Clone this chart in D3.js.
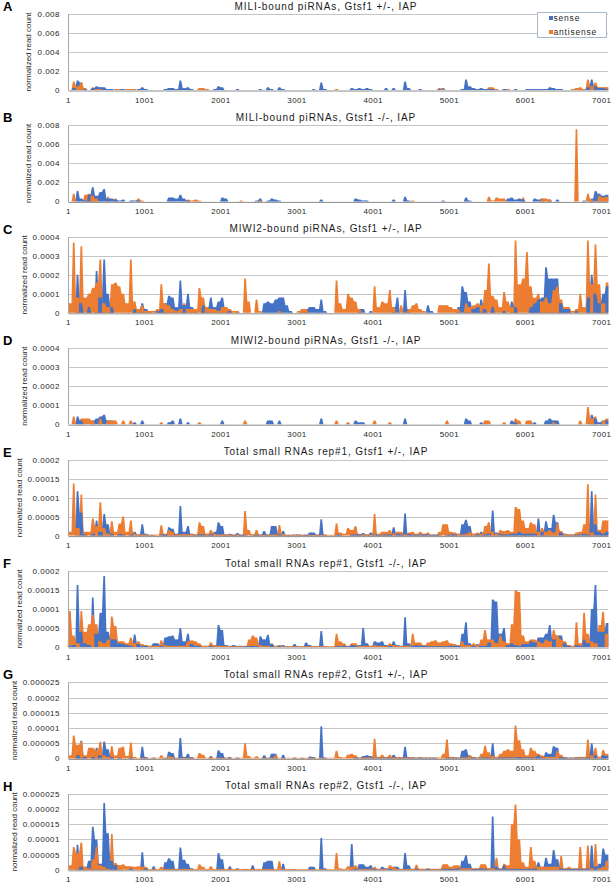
<!DOCTYPE html>
<html><head><meta charset="utf-8">
<script src="https://cdn.jsdelivr.net/npm/d3@7"></script>
<style>body{margin:0;background:#fff}svg{display:block}text{font-family:"Liberation Sans",Arial,sans-serif}</style>
</head><body><script>
// ---- data: IAP coverage in 50-nt bins (bin i covers positions 1+50i .. 50+50i) ----
const BIN = 50;
const POS_MAX = 7090;
const xTicks = [1,1001,2001,3001,4001,5001,6001,7001];
const letters = ["A","B","C","D","E","F","G","H"];
const titles = [
 "MILI-bound piRNAs, Gtsf1 +/-, IAP",
 "MILI-bound piRNAs, Gtsf1 -/-, IAP",
 "MIWI2-bound piRNAs, Gtsf1 +/-, IAP",
 "MIWI2-bound piRNAs, Gtsf1 -/-, IAP",
 "Total small RNAs rep#1, Gtsf1 +/-, IAP",
 "Total small RNAs rep#1, Gtsf1 -/-, IAP",
 "Total small RNAs rep#2, Gtsf1 +/-, IAP",
 "Total small RNAs rep#2, Gtsf1 -/-, IAP"
];
const seriesNames = ["sense","antisense"];
const ticksMILI = [0,0.002,0.004,0.006,0.008];
const labelsMILI = ["0","0.002","0.004","0.006","0.008"];
const ticksMIWI2 = [0,0.0001,0.0002,0.0003,0.0004];
const labelsMIWI2 = ["0","0.0001","0.0002","0.0003","0.0004"];
const ticksTotal1 = [0,0.00005,0.0001,0.00015,0.0002];
const labelsTotal1 = ["0","0.00005","0.0001","0.00015","0.0002"];
const ticksTotal2 = [0,0.000005,0.00001,0.000015,0.00002,0.000025];
const labelsTotal2 = ["0","0.000005","0.00001","0.000015","0.00002","0.000025"];
// value units of the arrays below
const unitMILI = 1e-4, unitMIWI2 = 1e-5, unitTotal1 = 1e-6, unitTotal2 = 1e-7;

const senseA = [
0,2,10,8,1,0,2,4,3,3,1,1,0,1,1,0,1,0,1,3,
1,0,0,0,0,1,2,2,1,10,2,3,1,0,0,0,1,0,1,4,
3,0,0,0,1,0,0,0,0,0,1,0,3,1,0,3,1,0,0,0,
0,0,0,0,1,0,8,1,0,0,0,0,0,0,2,1,2,1,2,1,
0,0,0,2,0,2,0,0,9,2,0,0,1,0,0,0,0,1,2,0,
0,0,0,1,11,4,2,1,2,1,1,1,1,0,1,1,0,1,0,0,
1,1,1,1,1,1,3,2,1,1,0,0,0,0,0,1,3,11,4,2,
2,1];
const antiA = [
0,9,4,8,2,0,3,1,1,0,0,0,1,1,0,1,1,1,0,0,
0,0,0,0,0,0,0,0,0,0,0,0,0,0,2,2,1,0,0,0,
0,0,0,0,0,0,0,0,0,0,0,0,0,0,0,0,0,0,0,0,
0,0,0,0,0,0,0,0,0,0,1,0,0,0,0,0,0,0,0,0,
0,0,0,0,0,0,0,0,0,0,0,0,0,0,0,0,0,2,1,0,
0,0,0,0,0,0,0,0,0,0,3,3,1,0,0,1,0,0,0,0,
0,0,0,0,0,0,0,0,0,0,0,0,1,2,3,1,11,4,8,3,
3,3];
const senseB = [
0,0,11,3,1,7,15,6,10,13,3,3,2,1,2,0,1,1,1,0,
0,0,0,0,0,0,4,4,3,7,3,1,0,0,0,0,0,0,0,0,
4,3,0,0,0,0,0,0,0,1,3,0,1,3,2,1,0,0,0,0,
0,0,0,0,0,0,2,0,0,0,0,0,0,0,0,3,2,1,1,0,
0,0,0,0,0,2,0,0,5,1,0,0,0,0,0,0,0,0,1,0,
0,0,0,0,4,1,0,0,0,0,0,0,0,0,0,3,4,2,3,2,
0,0,3,2,3,0,2,0,2,0,0,0,0,0,0,1,0,3,11,8,
6,7];
const antiB = [
0,8,0,0,7,8,6,3,0,0,5,0,3,0,0,0,0,0,3,1,
0,0,0,0,0,0,0,0,0,0,0,2,1,2,1,0,0,0,0,0,
0,0,0,0,0,1,0,0,0,0,1,0,0,0,0,0,0,0,0,0,
0,0,0,0,0,0,0,0,0,0,0,0,0,0,0,0,0,0,0,0,
0,0,0,0,0,0,0,0,0,0,1,0,0,0,0,0,0,0,0,0,
0,0,0,0,0,0,0,0,0,0,5,1,4,3,3,0,0,0,0,4,
0,0,0,0,3,3,2,0,0,0,0,0,0,76,0,0,8,2,0,6,
4,5];
const senseC = [
0,0,20,5,0,3,0,22,8,28,10,3,0,0,0,0,0,2,2,5,
2,1,0,1,2,5,9,8,3,17,4,10,3,2,0,4,3,8,3,6,
8,3,1,0,1,0,0,0,0,0,0,5,6,5,7,8,8,4,1,0,
0,2,2,3,3,2,7,1,0,0,0,0,0,0,0,0,2,2,0,1,
0,0,0,0,0,3,8,0,12,2,0,0,0,0,4,1,0,0,0,0,
0,0,3,14,11,6,2,3,7,2,0,3,0,0,1,0,6,3,0,0,
0,3,5,7,8,24,18,18,18,5,2,2,0,1,0,0,8,20,10,5,
10,14];
const antiC = [
5,37,8,35,8,10,13,16,28,5,3,15,16,14,10,5,28,6,2,4,
1,1,1,2,15,5,4,2,1,2,5,2,2,2,13,8,3,2,2,1,
3,3,2,1,1,0,18,6,0,7,1,0,0,0,0,1,0,0,0,0,
1,2,2,0,0,0,0,0,0,0,17,5,2,10,8,6,2,0,0,0,
14,3,6,5,12,3,0,4,0,2,4,5,2,1,0,0,0,4,4,4,
3,2,2,0,5,3,4,5,4,12,26,9,7,3,11,6,3,38,15,18,
32,14,8,10,6,8,5,12,14,7,3,3,1,2,10,3,38,15,36,15,
5,16];
const senseD = [
0,0,4,2,0,0,2,3,4,5,2,2,0,0,0,0,0,1,0,2,
0,0,0,0,0,0,1,2,0,3,0,1,0,0,0,0,0,0,0,0,
2,0,0,0,0,0,0,0,0,0,0,0,2,2,0,2,0,0,0,0,
0,0,0,0,0,0,3,0,0,0,0,0,0,0,0,2,1,1,0,0,
0,0,0,0,0,0,0,0,3,0,0,0,0,0,0,0,0,0,0,0,
0,0,0,0,3,2,0,0,1,0,0,0,0,0,0,0,2,1,0,0,
0,0,1,0,0,2,3,2,2,0,0,0,0,0,0,0,0,5,3,1,
2,2];
const antiD = [
0,4,0,3,3,3,2,0,3,0,2,2,2,0,2,0,2,0,0,0,
0,0,0,0,1,0,0,0,0,0,0,0,0,0,1,0,0,0,0,0,
0,0,0,0,0,0,2,0,0,0,0,0,0,0,0,0,0,0,0,0,
0,0,0,0,0,0,0,0,0,0,2,0,0,1,0,0,0,0,0,0,
2,0,0,0,1,0,0,0,0,0,0,0,0,0,0,0,0,0,0,2,
0,0,0,0,0,0,0,0,0,2,2,0,0,0,1,0,0,3,2,0,
2,2,0,0,0,0,0,1,0,0,0,0,0,0,2,0,9,3,4,0,
2,3];
const senseE = [
0,0,117,60,3,0,5,40,10,57,30,5,0,5,3,0,3,10,3,30,
5,2,2,0,3,3,22,18,5,78,10,25,5,3,3,3,5,3,10,35,
25,3,5,2,7,2,2,0,3,2,3,12,3,25,25,3,12,2,2,3,
3,2,2,8,8,3,43,3,0,0,3,2,0,0,3,3,3,7,3,8,
3,2,2,3,3,22,5,3,58,5,2,2,3,3,3,2,2,2,0,2,
3,3,5,30,42,25,5,3,10,3,5,66,8,5,3,3,5,5,10,5,
5,5,5,45,10,38,20,55,35,8,5,3,3,2,3,5,3,117,30,10,
5,10];
const antiE = [
10,137,20,108,10,10,45,25,88,20,5,38,10,32,50,10,40,5,3,3,
3,2,2,3,27,5,15,10,3,3,5,3,5,3,35,25,5,15,5,3,
3,3,3,3,3,3,65,15,3,15,3,2,2,3,3,28,5,2,2,2,
3,2,3,2,2,2,2,2,2,2,32,8,5,20,15,25,5,3,3,3,
57,5,10,10,15,5,10,10,3,8,10,5,10,5,8,3,3,10,30,30,
10,8,5,3,5,10,5,8,5,25,35,10,5,15,12,15,10,75,70,40,
20,35,30,10,20,10,15,8,32,12,5,3,3,8,10,30,135,8,108,15,
40,40];
const senseF = [
3,5,163,40,10,5,130,35,90,187,40,20,20,10,8,5,3,33,8,3,
3,3,10,10,3,25,28,30,20,50,15,35,8,3,3,3,3,3,5,58,
45,5,3,5,3,3,2,2,3,2,28,20,32,8,3,3,5,2,2,8,
2,2,12,5,2,2,42,2,0,0,2,2,3,2,5,3,5,50,10,3,
15,12,15,5,3,15,5,3,78,10,3,5,3,3,2,2,2,2,2,2,
3,3,3,35,65,10,3,8,3,3,12,125,120,35,50,5,10,5,3,8,
8,15,12,25,25,35,58,20,30,30,10,3,3,5,3,20,10,100,163,40,
40,63];
const antiF = [
95,30,10,95,40,60,85,60,15,10,20,80,55,15,15,10,25,10,15,8,
5,3,3,3,18,5,3,3,3,3,3,15,18,15,10,3,3,12,5,3,
3,3,2,2,2,2,3,20,30,25,5,3,3,10,3,5,2,2,2,2,
2,2,2,2,2,2,2,2,2,2,35,15,10,3,10,10,3,3,3,3,
5,3,3,3,10,5,3,3,3,3,35,12,12,5,12,15,18,12,15,18,
10,8,5,15,5,5,10,5,20,45,20,20,10,30,15,10,60,150,145,30,
15,20,20,15,10,20,15,45,30,20,15,5,3,65,10,90,35,15,10,58,
93,35];
const senseG = [
0,0,10,58,5,0,5,35,10,56,30,5,0,3,0,0,3,0,0,38,
5,0,3,0,0,2,22,18,2,67,5,15,3,0,0,0,0,8,0,27,
18,2,5,0,3,0,0,0,0,0,0,10,2,15,15,0,12,0,0,3,
0,2,0,6,5,0,106,3,0,0,0,0,0,0,0,2,2,8,10,8,
2,2,2,2,2,12,5,2,38,5,2,2,2,2,2,2,2,0,0,2,
2,2,3,25,30,10,3,3,3,3,3,50,5,3,3,3,3,3,5,3,
3,3,3,10,3,20,15,40,35,5,3,2,2,2,2,2,3,50,10,5,
10,8];
const antiG = [
10,75,45,55,10,35,35,28,55,10,5,40,10,35,38,8,52,5,2,2,
2,2,2,2,10,2,8,5,2,2,2,2,5,2,18,12,2,5,2,2,
2,2,2,2,2,2,50,8,2,7,2,2,2,2,10,2,2,2,2,2,
2,2,2,2,2,2,2,2,2,2,25,5,3,12,15,10,3,3,3,3,
65,5,12,5,12,3,5,5,3,3,5,3,5,3,3,3,3,3,15,62,
5,5,3,3,3,10,5,3,15,42,20,8,5,15,25,30,25,108,60,30,
10,35,25,15,10,5,5,5,25,12,5,3,3,5,5,5,62,10,35,5,
28,15];
const senseH = [
0,0,82,10,10,30,142,100,20,220,120,30,15,15,0,0,5,0,0,58,
5,0,12,0,0,25,38,30,3,73,33,20,5,0,0,0,0,0,0,55,
35,0,12,0,5,0,3,0,15,0,0,25,30,30,0,0,20,0,0,3,
0,0,0,10,10,0,105,5,0,0,0,0,0,0,85,3,18,18,10,15,
3,3,10,5,3,10,10,3,55,15,3,3,3,3,3,3,3,3,3,3,
3,3,5,30,48,20,3,3,5,3,5,175,10,3,15,3,3,3,3,3,
3,3,5,25,10,40,20,65,35,5,3,3,3,3,3,3,5,80,10,20,
70,50];
const antiH = [
15,75,55,90,10,5,35,75,15,10,3,118,22,15,18,12,12,10,12,10,
10,3,3,3,10,3,3,3,3,3,3,3,3,3,18,10,3,12,3,3,
3,3,3,3,3,3,3,3,3,3,3,3,3,3,3,28,3,3,3,3,
2,2,2,2,2,2,2,2,2,2,55,5,3,12,10,15,3,3,3,3,
10,3,3,3,15,10,3,3,3,3,3,17,3,3,5,3,3,3,18,18,
10,15,15,5,5,5,5,5,18,18,5,5,40,5,20,15,150,215,100,25,
10,75,30,10,10,10,10,10,10,45,5,10,5,5,75,5,80,5,85,5,
10,30];

// ---- build ----
const W = 611, H = 886;
const COLORS = {sense: "#4472C4", antisense: "#ED7D31"};
const FONT = '"Liberation Sans", Arial, sans-serif';
const panels = [
 {sense: senseA, anti: antiA, unit: unitMILI, ticks: ticksMILI, labels: labelsMILI},
 {sense: senseB, anti: antiB, unit: unitMILI, ticks: ticksMILI, labels: labelsMILI},
 {sense: senseC, anti: antiC, unit: unitMIWI2, ticks: ticksMIWI2, labels: labelsMIWI2},
 {sense: senseD, anti: antiD, unit: unitMIWI2, ticks: ticksMIWI2, labels: labelsMIWI2},
 {sense: senseE, anti: antiE, unit: unitTotal1, ticks: ticksTotal1, labels: labelsTotal1},
 {sense: senseF, anti: antiF, unit: unitTotal1, ticks: ticksTotal1, labels: labelsTotal1},
 {sense: senseG, anti: antiG, unit: unitTotal2, ticks: ticksTotal2, labels: labelsTotal2},
 {sense: senseH, anti: antiH, unit: unitTotal2, ticks: ticksTotal2, labels: labelsTotal2}
];

const svg = d3.select("body").append("svg").attr("width", W).attr("height", H);
svg.append("rect").attr("width", W).attr("height", H).attr("fill", "#fff");

const PL = 68, PR = 608, PH = 76;
const x = d3.scaleLinear().domain([1, POS_MAX]).range([PL, PR]);
const nb = senseA.length;

panels.forEach((p, i) => {
  const top = 14 + i * 111.4, bottom = top + PH;
  const ymax = d3.max(p.ticks);
  const y = d3.scaleLinear().domain([0, ymax]).range([bottom, top]).clamp(true);
  const g = svg.append("g");

  // gridlines
  g.selectAll("line.grid").data(p.ticks.filter(t => t > 0)).join("line")
    .attr("x1", PL).attr("x2", PR)
    .attr("y1", d => Math.round(y(d)) + 0.5).attr("y2", d => Math.round(y(d)) + 0.5)
    .attr("stroke", "#c4c4c4").attr("stroke-width", 1);

  // each bin drawn as a narrow-topped column whose shoulders sit at the lower neighbour;
  // within a bin the taller series is drawn first so both stay visible
  const area = d3.area().x(d => d[0]).y0(bottom).y1(d => y(d[1]));
  const slices = [];
  [["sense", p.sense], ["antisense", p.anti]].forEach(([s, arr]) => {
    arr.forEach((v, j) => {
      if (v <= 0) return;
      const prev = j > 0 ? arr[j - 1] : 0, next = j < nb - 1 ? arr[j + 1] : v;
      const a0 = 1 + BIN * j, a1 = Math.min(1 + BIN * (j + 1), POS_MAX);
      const px0 = x(a0) - 0.35, px1 = x(a1) + 0.35, pc = (x(a0) + x(a1)) / 2, tw = (x(a1) - x(a0)) * 0.22;
      const l = Math.min(prev, v), r = Math.min(next, v);
      slices.push({s, v: v * p.unit, pts: [
        [px0, l * p.unit], [pc - tw, v * p.unit], [pc + tw, v * p.unit], [px1, r * p.unit]]});
    });
  });
  slices.sort((a, b) => b.v - a.v);
  g.selectAll("path.slice").data(slices).join("path")
    .attr("d", d => area(d.pts))
    .attr("fill", d => COLORS[d.s]);

  // y axis
  const gy = svg.append("g").attr("transform", `translate(${PL},0)`)
    .call(d3.axisLeft(y).tickValues(p.ticks).tickFormat((d, j) => p.labels[j]).tickSize(0).tickSizeOuter(0).tickPadding(8));
  gy.select(".domain").attr("stroke", "#a6a6a6");
  gy.selectAll("text").attr("font-family", FONT).attr("font-size", 8).attr("fill", "#262626").attr("letter-spacing", 0.5);
  let minLeft = PL;
  gy.selectAll("text").each(function () {
    const b = this.getBBox();
    minLeft = Math.min(minLeft, PL + b.x);
  });

  // x axis
  const gx = svg.append("g").attr("transform", `translate(0,${bottom + 0.5})`)
    .call(d3.axisBottom(x).tickValues(xTicks).tickFormat(d => String(d)).tickSize(0).tickSizeOuter(0));
  gx.select(".domain").attr("stroke", "#8c8c8c");
  gx.selectAll("text").attr("font-family", FONT).attr("font-size", 8).attr("fill", "#262626")
    .attr("letter-spacing", 0.4).attr("y", 12).attr("dy", 0);

  // y title
  svg.append("text").attr("transform", `translate(${minLeft - 6},${(top + bottom) / 2}) rotate(-90)`)
    .attr("text-anchor", "middle").attr("font-family", FONT).attr("font-size", 8).attr("fill", "#262626")
    .text("normalized read count");

  // panel letter
  svg.append("text").attr("x", 3).attr("y", top - 3).attr("font-family", FONT)
    .attr("font-size", 13).attr("font-weight", "bold").attr("fill", "#000").text(letters[i]);

  // title
  svg.append("text").attr("x", 326).attr("y", top - 4.5).attr("text-anchor", "middle")
    .attr("font-family", FONT).attr("font-size", 10).attr("letter-spacing", 0.9).attr("fill", "#1a1a1a")
    .text(titles[i]);
});

// legend (panel A)
const lg = svg.append("g").attr("transform", "translate(537.5,12.5)");
lg.append("rect").attr("width", 69).attr("height", 25).attr("fill", "#fff").attr("stroke", "#a9b8cc");
seriesNames.forEach((s, k) => {
  lg.append("rect").attr("x", 11.5).attr("y", 3.5 + k * 14).attr("width", 4).attr("height", 4).attr("fill", COLORS[s]);
  lg.append("text").attr("x", 16).attr("y", 8.2 + k * 14).attr("font-family", FONT).attr("font-size", 8.5)
    .attr("letter-spacing", 0.8).attr("fill", "#262626").text(s);
});
</script></body></html>
